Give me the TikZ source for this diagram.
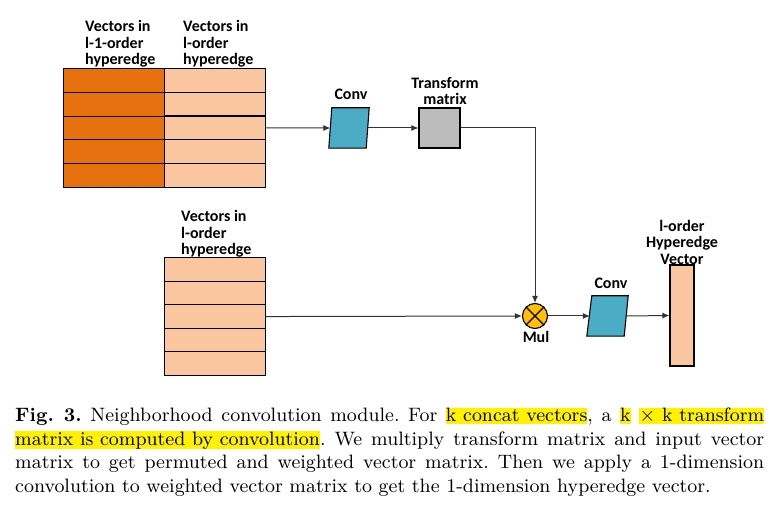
\documentclass[tikz,border=0pt]{standalone}
\usepackage{fontspec}
\newfontfamily\labfont{Carlito}
\newfontfamily\capfont{lmroman9-regular.otf}[BoldFont=lmroman9-bold.otf]
\usetikzlibrary{arrows.meta}
\definecolor{darkor}{HTML}{E8710F}
\definecolor{lightor}{HTML}{F9C6A0}
\definecolor{convblue}{HTML}{4BACC6}
\definecolor{tmgrey}{HTML}{BCBCBC}
\definecolor{mulyellow}{HTML}{FFC000}
\definecolor{linegrey}{HTML}{333333}
\newcommand\hlt[1]{{\fboxsep=0pt\colorbox{yellow}{\vrule height 14pt depth 2.6pt width 0pt #1}}}
\begin{document}
\begin{tikzpicture}[x=1pt,y=-1pt,
  cellD/.style={draw=black, line width=1.1pt, fill=darkor, minimum width=101pt, minimum height=23.8pt, inner sep=0pt, anchor=north west},
  cellL/.style={draw=black, line width=1.1pt, fill=lightor, minimum width=101pt, minimum height=23.6pt, inner sep=0pt, anchor=north west},
  lab/.style={font=\labfont\bfseries\fontsize{16}{16.5}\selectfont, inner sep=0pt},
  ghost/.style={minimum width=40pt, minimum height=40pt, inner sep=0pt},
  para/.style={draw=black, line width=1.1pt, fill=convblue},
  arr/.style={draw=linegrey, line width=1pt, -{Latex[length=7pt,width=6pt]}},
  ln/.style={draw=linegrey, line width=1pt}
]
\useasboundingbox (0,0) rectangle (772,513);

% matrices
\foreach \i in {1,...,5} {
  \node[cellD] (a\i) at (63,{68+23.8*(\i-1)}) {};
  \node[cellL] (b\i) at (164,{68+23.8*(\i-1)}) {};
  \node[cellL] (c\i) at (164,{257+23.6*(\i-1)}) {};
}
\node[lab, anchor=north west, align=left] (la) at (85,20.5) {Vectors in\\l-1-order\\hyperedge};
\node[lab, anchor=north west, align=left] (lb) at (183,20.5) {Vectors in\\l-order\\hyperedge};
\node[lab, anchor=north west, align=left] (lc) at (181,210.5) {Vectors in\\l-order\\hyperedge};

% conv 1
\node[ghost] (conv1) at (349,128) {};
\draw[para] (conv1.south west) -- ([xshift=3pt]conv1.north west) -- (conv1.north east) -- ([xshift=-3pt]conv1.south east) -- cycle;
\node[lab, anchor=base] (lconv1) at (351,100) {Conv};

% transform matrix
\node[draw=black, line width=1.1pt, fill=tmgrey, minimum width=41pt, minimum height=40pt, inner sep=0pt] (tm) at (439.5,128) {};
\node[lab, anchor=north, align=center] (ltm) at (445,77) {Transform\\matrix};

% mul
\node[draw=black, line width=1.1pt, fill=mulyellow, circle, minimum size=25pt, inner sep=0pt] (mul) at (535,316) {};
\draw[black, line width=1.1pt] (mul.north west) -- (mul.south east) (mul.north east) -- (mul.south west);
\node[lab, anchor=base] (lmul) at (536,343) {Mul};

% conv 2
\node[ghost] (conv2) at (608,316) {};
\draw[para] ([xshift=-1pt]conv2.south west) -- ([xshift=4pt]conv2.north west) -- (conv2.north east) -- ([xshift=-4pt]conv2.south east) -- cycle;
\node[lab, anchor=base] (lconv2) at (611,289) {Conv};

% output vector
\node[draw=black, line width=1.1pt, fill=lightor, minimum width=24pt, minimum height=101pt, inner sep=0pt] (vec) at (682,315.5) {};
\node[lab, anchor=north, align=center] (lvec) at (682,220) {l-order\\Hyperedge\\Vector};

% connectors
\draw[arr] (b3.east) -- ([xshift=1.5pt]conv1.west);
\draw[arr] ([xshift=-1.5pt]conv1.east) -- (tm.west);
\draw[arr] (tm.east) -| (mul.north);
\draw[arr] (c3.east) -- (mul.west);
\draw[arr] (mul.east) -- ([xshift=2pt]conv2.west);
\draw[arr] ([xshift=-2pt]conv2.east) -- (vec.west);

% caption
\node[anchor=base west, inner sep=0pt, text width=749pt, align=justify, font=\capfont\fontsize{19.4}{23.5}\selectfont\frenchspacing] (cap) at (15,421.7) {\textbf{Fig.~3.} Neighborhood convolution module. For \hlt{k concat vectors}, a \hlt{k} \hlt{$\times$ k transform}\linebreak \hlt{matrix is computed by convolution}. We multiply transform matrix and input vector\linebreak matrix to get permuted and weighted vector matrix. Then we apply a 1-dimension\linebreak convolution to weighted vector matrix to get the 1-dimension hyperedge vector.};
\end{tikzpicture}
\end{document}
